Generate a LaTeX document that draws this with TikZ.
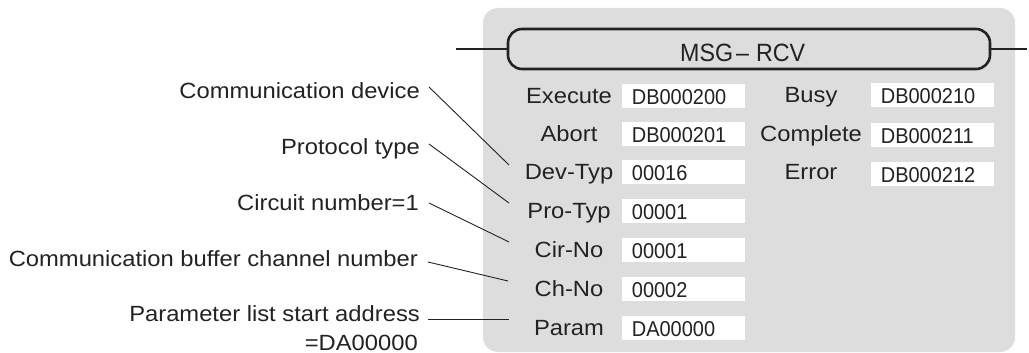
\documentclass[tikz,border=0pt]{standalone}
\usepackage{fontspec}
\usepackage{graphicx}
\setmainfont[FakeStretch=1.08]{Liberation Sans}
\newfontfamily\titlefont[FakeStretch=0.93]{Liberation Sans}
\newcommand{\valtxt}[1]{\scalebox{0.86}[1]{#1}}
\definecolor{panelgray}{RGB}{221,221,221}
\definecolor{ink}{RGB}{34,34,34}
\begin{document}
\begin{tikzpicture}[x=1pt,y=-1pt,
  lbl/.style={font=\fontsize{22}{26}\selectfont, text=ink, inner sep=0pt, anchor=base},
  callout/.style={font=\fontsize{22}{26}\selectfont, text=ink, inner sep=0pt, anchor=base east},
  valbox/.style={fill=white, anchor=west, inner sep=0pt, minimum width=123.3pt, minimum height=24pt},
  val/.style={font=\fontsize{21.5}{24}\selectfont, text=ink, inner sep=0pt, anchor=base west},
  bar/.style={draw=ink, line width=2.6pt, rounded corners=14pt, minimum width=482pt, minimum height=40pt, inner sep=0pt},
  wire/.style={draw=ink, line width=2.6pt},
  leader/.style={draw=ink, line width=0.9pt}]
\useasboundingbox (0,0) rectangle (1029,353);
% panel
\fill[panelgray, rounded corners=15pt] (483,8) rectangle (1015,352);
% title bar
\node[bar] (bar) at (749,49) {};
\node[font=\titlefont\fontsize{25}{28}\selectfont, text=ink, inner sep=0pt, anchor=base west] (title) at (680,61.7) {MSG\kern3pt–\kern7pt RCV};
\coordinate (lin) at (456,49);
\coordinate (rout) at (1027,49);
\draw[wire] (lin) -- (bar.west);
\draw[wire] (bar.east) -- (rout);
% column 1 labels
\node[lbl] (lexe) at (569,103.2) {Execute};
\node[lbl] (labo) at (569,141.2) {Abort};
\node[lbl] (ldev) at (569,179.2) {Dev-Typ};
\node[lbl] (lpro) at (569,218.2) {Pro-Typ};
\node[lbl] (lcir) at (569,257.2) {Cir-No};
\node[lbl] (lch)  at (569,296.2) {Ch-No};
\node[lbl] (lpar) at (569,335.2) {Param};
% column 1 value boxes
\node[valbox] (bexe) at (621.7,96) {};
\node[valbox] (babo) at (621.7,134) {};
\node[valbox] (bdev) at (621.7,172) {};
\node[valbox] (bpro) at (621.7,211) {};
\node[valbox] (bcir) at (621.7,250) {};
\node[valbox] (bch)  at (621.7,289) {};
\node[valbox] (bpar) at (621.7,328) {};
\node[val] (vexe) at (631.7,104.7) {\valtxt{DB000200}};
\node[val] (vabo) at (631.7,142.7) {\valtxt{DB000201}};
\node[val] (vdev) at (631.7,180.7) {\valtxt{00016}};
\node[val] (vpro) at (631.7,219.7) {\valtxt{00001}};
\node[val] (vcir) at (631.7,258.7) {\valtxt{00001}};
\node[val] (vch)  at (631.7,297.7) {\valtxt{00002}};
\node[val] (vpar) at (631.7,336.7) {\valtxt{DA00000}};
% column 2
\node[lbl] (lbusy) at (811,102.2) {Busy};
\node[lbl] (lcomp) at (811,141.2) {Complete};
\node[lbl] (lerr)  at (811,179.2) {Error};
\node[valbox] (bbusy) at (870.7,95) {};
\node[valbox] (bcomp) at (870.7,134.5) {};
\node[valbox] (berr)  at (870.7,174) {};
\node[val] (vbusy) at (880.7,103.7) {\valtxt{DB000210}};
\node[val] (vcomp) at (880.7,143.2) {\valtxt{DB000211}};
\node[val] (verr)  at (880.7,182.7) {\valtxt{DB000212}};
% callouts
\node[callout] (cd) at (420,98.3) {Communication device};
\node[callout] (pt) at (420,154) {Protocol type};
\node[callout] (cn) at (419,210) {Circuit number=1};
\node[callout] (cb) at (418,266) {Communication buffer channel number};
\node[callout] (pl) at (420,321.7) {Parameter list start address};
\node[callout] (pl2) at (418,350) {=DA00000};
\coordinate (s1) at (429,87);  \coordinate (e1) at (509,165);
\coordinate (s2) at (429,144); \coordinate (e2) at (509,203);
\coordinate (s3) at (429,203); \coordinate (e3) at (509,242);
\coordinate (s4) at (428,262); \coordinate (e4) at (508,281);
\coordinate (s5) at (428,319); \coordinate (e5) at (509,319);
\draw[leader] (s1) -- (e1);
\draw[leader] (s2) -- (e2);
\draw[leader] (s3) -- (e3);
\draw[leader] (s4) -- (e4);
\draw[leader] (s5) -- (e5);
\end{tikzpicture}
\end{document}
